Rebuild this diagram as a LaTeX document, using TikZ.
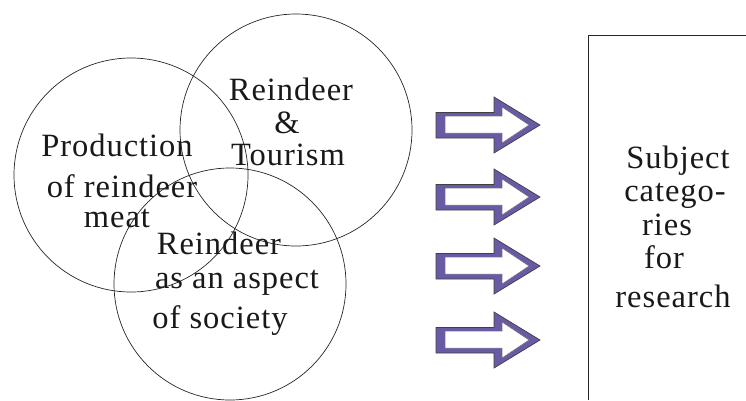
\documentclass[tikz,border=0pt]{standalone}
\usepackage{fontspec}
\setmainfont[LetterSpace=3]{Liberation Serif}
\definecolor{arrpurple}{RGB}{106,90,166}
\begin{document}
\begin{tikzpicture}[x=1pt,y=-1pt,
  ring/.style={draw=black!85,line width=0.7pt},
  lbl/.style={anchor=base,inner sep=0pt,font=\fontsize{32.5}{34}\selectfont,text=black!90},
  arrout/.style={fill=arrpurple,draw=black!75,line width=0.7pt,line join=miter},
  arrin/.style={fill=white,draw=black!55,line width=0.5pt}]
\useasboundingbox (0,0) rectangle (746,400);
% circles
\draw[ring] (131,175) circle[radius=117];
\draw[ring] (296,130) circle[radius=116];
\draw[ring] (230,284) circle[radius=116];
% circle labels
\node[lbl] (p1) at (117,156) {Production};
\node[lbl] (p2) at (122,197) {of reindeer};
\node[lbl] (p3) at (117,227) {meat};
\node[lbl] (t1) at (291,100) {Reindeer};
\node[lbl] (t2) at (287,133) {\&};
\node[lbl] (t3) at (288,165) {Tourism};
\node[lbl] (s1) at (219,254) {Reindeer};
\node[lbl] (s2) at (237,288) {as an aspect};
\node[lbl] (s3) at (220,328) {of society};
% arrows
\foreach \c in {125,197,266,340}{
  \filldraw[arrout] (436,\c-12.5) -- (494,\c-12.5) -- (494,\c-28) -- (540,\c)
     -- (494,\c+28) -- (494,\c+13) -- (436,\c+13) -- cycle;
  \filldraw[arrin] (445,\c-9) -- (502,\c-9) -- (502,\c-18) -- (529,\c)
     -- (502,\c+18) -- (502,\c+8) -- (445,\c+8) -- cycle;
}
% box
\draw[black!85,line width=0.8pt] (588,400) -- (588,35) -- (746,35);
\node[lbl] (r1) at (678,168) {Subject};
\node[lbl] (r2) at (675,201) {catego-};
\node[lbl] (r3) at (667,235) {ries};
\node[lbl] (r4) at (664,268) {for};
\node[lbl] (r5) at (673,307) {research};
\end{tikzpicture}
\end{document}
